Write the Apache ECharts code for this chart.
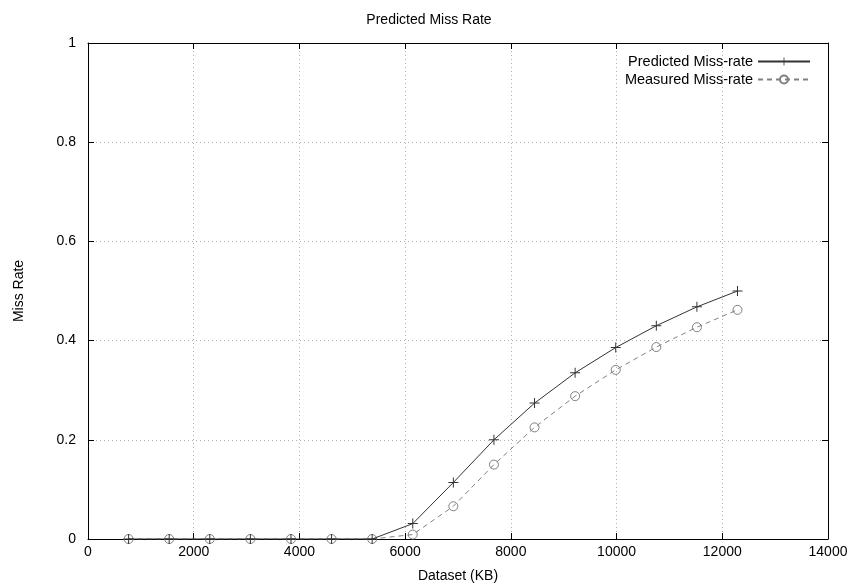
<!DOCTYPE html>
<html>
<head>
<meta charset="utf-8">
<script src="https://cdn.jsdelivr.net/npm/echarts@6/dist/echarts.min.js"></script>
<style>html,body{margin:0;padding:0;background:#fff}#c{width:858px;height:588px}</style>
</head>
<body>
<div id="c"></div>
<script>
const datasetKB = [768, 1536, 2304, 3072, 3840, 4608, 5376, 6144, 6912, 7680, 8448, 9216, 9984, 10752, 11520, 12288];
const predicted = [0, 0, 0, 0, 0, 0, 0, 0.031, 0.114, 0.200, 0.274, 0.335, 0.386, 0.430, 0.468, 0.500];
const measured  = [0, 0, 0, 0, 0, 0, 0, 0.009, 0.066, 0.150, 0.225, 0.288, 0.341, 0.387, 0.427, 0.462];
const titleText = 'Predicted Miss Rate';
const xName = 'Dataset (KB)';
const yName = 'Miss Rate';
const seriesNames = ['Predicted Miss-rate', 'Measured Miss-rate'];

const font = 'Liberation Sans, Helvetica, Arial, sans-serif';
const chart = echarts.init(document.getElementById('c'), null, {renderer: 'canvas'});
const plus = 'path://M4.5,0H5.5V4.5H10V5.5H5.5V10H4.5V5.5H0V4.5H4.5Z';
const gridLine = {show: true, lineStyle: {color: '#b0b0b0', type: [1, 3], width: 1}};
chart.setOption({
  animation: false,
  backgroundColor: '#fff',
  textStyle: {fontFamily: font},
  title: {text: titleText, left: 'center', top: 8, textStyle: {fontFamily: font, fontSize: 14, fontWeight: 'normal', color: '#000'}},
  legend: {
    right: 42, top: 49, orient: 'vertical', align: 'right', itemGap: 3,
    itemWidth: 52, itemHeight: 10,
    textStyle: {fontFamily: font, fontSize: 14.5, color: '#000'},
    data: seriesNames
  },
  grid: {left: 88, right: 30, top: 43, bottom: 43, containLabel: false},
  xAxis: [{
    type: 'value', min: 0, max: 14000, interval: 2000,
    name: xName, nameLocation: 'middle', nameGap: 30,
    nameTextStyle: {fontFamily: font, fontSize: 14, color: '#000'},
    axisLine: {show: true, onZero: false, lineStyle: {color: '#000', width: 1}},
    axisTick: {show: true, inside: true, length: 6, lineStyle: {color: '#000'}},
    axisLabel: {fontFamily: font, fontSize: 14, color: '#000', margin: 6, formatter: v => String(v)},
    splitLine: gridLine
  }, {
    type: 'value', min: 0, max: 14000, interval: 2000, position: 'top',
    axisLine: {show: true, onZero: false, lineStyle: {color: '#000', width: 1}},
    axisTick: {show: true, inside: true, length: 6, lineStyle: {color: '#000'}},
    axisLabel: {show: false}, splitLine: {show: false}
  }],
  yAxis: [{
    type: 'value', min: 0, max: 1, interval: 0.2,
    name: yName, nameLocation: 'middle', nameGap: 62, nameRotate: 90,
    nameTextStyle: {fontFamily: font, fontSize: 14, color: '#000'},
    axisLine: {show: true, onZero: false, lineStyle: {color: '#000', width: 1}},
    axisTick: {show: true, inside: true, length: 6, lineStyle: {color: '#000'}},
    axisLabel: {fontFamily: font, fontSize: 14, color: '#000', margin: 12},
    splitLine: gridLine
  }, {
    type: 'value', min: 0, max: 1, interval: 0.2, position: 'right',
    axisLine: {show: true, onZero: false, lineStyle: {color: '#000', width: 1}},
    axisTick: {show: true, inside: true, length: 6, lineStyle: {color: '#000'}},
    axisLabel: {show: false}, splitLine: {show: false}
  }],
  series: [{
    name: seriesNames[0], type: 'line',
    data: datasetKB.map((x, i) => [x, predicted[i]]),
    symbol: plus, symbolSize: 10,
    itemStyle: {color: '#333'},
    lineStyle: {color: '#333', width: 1, type: 'solid'},
    z: 3
  }, {
    name: seriesNames[1], type: 'line',
    data: datasetKB.map((x, i) => [x, measured[i]]),
    symbol: 'circle', symbolSize: 9,
    itemStyle: {color: 'rgba(255,255,255,0)', borderColor: '#808080', borderWidth: 1},
    lineStyle: {color: '#808080', width: 1, type: [5, 4]},
    z: 2
  }]
});
</script>
</body>
</html>
